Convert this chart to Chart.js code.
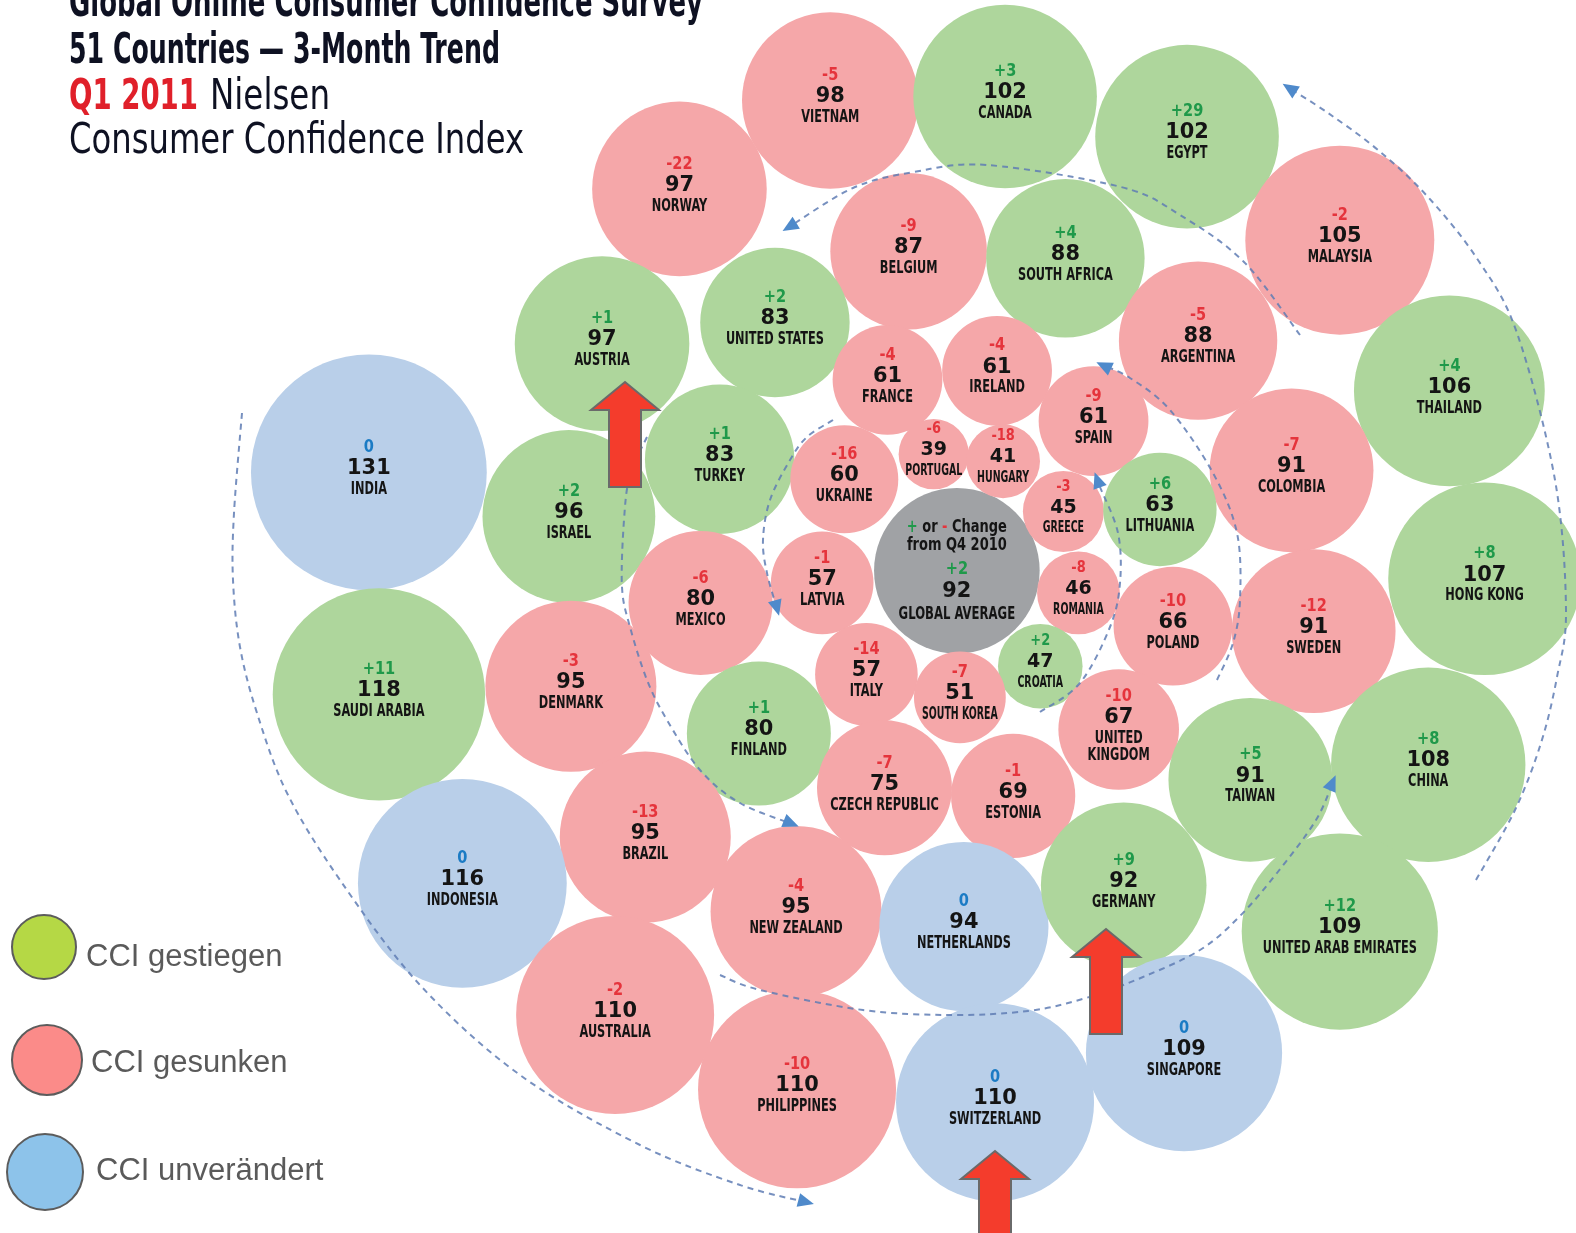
<!DOCTYPE html>
<html>
<head>
<meta charset="utf-8">
<script src="https://cdn.jsdelivr.net/npm/chart.js@4.4.1/dist/chart.umd.min.js"></script>
<style>
html, body { margin: 0; padding: 0; background: #fff; }
canvas { display: block; }
</style>
</head>
<body>
<canvas id="cci" width="1576" height="1233"></canvas>
<script>
// Q1 2011 Nielsen CCI, change vs Q4 2010
const countries = ['VIETNAM', 'CANADA', 'EGYPT', 'NORWAY', 'BELGIUM', 'SOUTH AFRICA', 'MALAYSIA', 'ARGENTINA',
  'THAILAND', 'AUSTRIA', 'UNITED STATES', 'FRANCE', 'IRELAND', 'SPAIN', 'COLOMBIA', 'INDIA', 'TURKEY',
  'PORTUGAL', 'HUNGARY', 'UKRAINE', 'ISRAEL', 'GREECE', 'LITHUANIA', 'HONG KONG', 'LATVIA', 'MEXICO',
  'ROMANIA', 'POLAND', 'SWEDEN', 'SAUDI ARABIA', 'DENMARK', 'ITALY', 'CROATIA', 'SOUTH KOREA', 'FINLAND',
  'UNITED\nKINGDOM', 'TAIWAN', 'CHINA', 'CZECH REPUBLIC', 'ESTONIA', 'BRAZIL', 'INDONESIA', 'NEW ZEALAND',
  'NETHERLANDS', 'GERMANY', 'UNITED ARAB EMIRATES', 'SINGAPORE', 'AUSTRALIA', 'PHILIPPINES', 'SWITZERLAND'];
const cci = [98, 102, 102, 97, 87, 88, 105, 88, 106, 97, 83, 61, 61, 61, 91, 131, 83, 39, 41, 60, 96, 45, 63,
  107, 57, 80, 46, 66, 91, 118, 95, 57, 47, 51, 80, 67, 91, 108, 75, 69, 95, 116, 95, 94, 92, 109, 109, 110, 110, 110];
const change = [-5, 3, 29, -22, -9, 4, -2, -5, 4, 1, 2, -4, -4, -9, -7, 0, 1, -6, -18, -16, 2, -3, 6, 8, -1, -6,
  -8, -10, -12, 11, -3, -14, 2, -7, 1, -10, 5, 8, -7, -1, -13, 0, -4, 0, 9, 12, 0, -2, -10, 0];
// bubble placement in the packed layout
const posX = [826, 1000, 1181, 676, 904, 1060, 1333, 1192, 1442, 599, 771, 883, 992, 1088, 1285, 367, 716, 929,
  998, 840, 566, 1058, 1154, 1477, 818, 697, 1073, 1167, 1307, 377, 568, 862, 1035, 955, 755, 1113, 1244, 1421,
  880, 1008, 642, 460, 792, 959, 1118, 1333, 1178, 612, 793, 990];
const posY = [100, 96, 136, 188, 250, 257, 239, 339, 389, 342, 321, 378, 369, 419, 468, 470, 457, 452, 459, 477,
  514, 509, 507, 576, 580, 600, 590, 623, 628, 691, 683, 671, 663, 694, 730, 726, 776, 761, 784, 792, 833, 879,
  907, 922, 881, 927, 1048, 1010, 1084, 1097];

const globalCci = 92;
const globalChange = 2;
const globalPos = [952, 568];

const legendLabels = ['CCI gestiegen', 'CCI gesunken', 'CCI unverändert'];

const NARROW = "'Liberation Sans Narrow', 'DejaVu Sans Condensed', sans-serif";
const rScale = 0.9;
const fillUp = '#aed69c', fillDown = '#f5a7a9', fillSame = '#b9cfe9', fillGlobal = '#a0a2a5';
const txtUp = '#1f994a', txtDown = '#e5343c', txtSame = '#1b7bc4';

function bubbleFill(c) { return c > 0 ? fillUp : (c < 0 ? fillDown : fillSame); }
function changeColor(c) { return c > 0 ? txtUp : (c < 0 ? txtDown : txtSame); }
function fmtChange(c) { return c > 0 ? '+' + c : String(c); }

function txt(ctx, s, x, y, font, sx, color, maxW) {
  ctx.save();
  ctx.font = font;
  ctx.fillStyle = color;
  ctx.textAlign = 'center';
  ctx.textBaseline = 'middle';
  let k = sx;
  if (maxW) {
    const w = ctx.measureText(s).width * k;
    if (w > maxW) k = k * maxW / w;
  }
  ctx.translate(x, y);
  ctx.scale(k, 1);
  ctx.fillText(s, 0, 0);
  ctx.restore();
}

function fitLeft(ctx, s, x, y, w, font, color) {
  ctx.save();
  ctx.font = font;
  ctx.fillStyle = color;
  ctx.textAlign = 'left';
  ctx.textBaseline = 'alphabetic';
  const m = ctx.measureText(s).width;
  ctx.translate(x, y);
  ctx.scale(w / m, 1);
  ctx.fillText(s, 0, 0);
  ctx.restore();
}

// dashed spiral guides (canvas pixels)
const guides = [
  [[242, 413], [234, 513], [233, 580], [240, 647], [257, 713], [287, 793], [340, 880], [420, 985], [520, 1075], [640, 1145], [740, 1185], [810, 1203]],
  [[647, 437], [630, 475], [624, 520], [622, 587], [630, 627], [647, 680], [667, 720], [700, 770], [740, 803], [795, 825]],
  [[833, 420], [807, 437], [790, 460], [770, 500], [763, 540], [767, 573], [778, 612]],
  [[1300, 335], [1244, 262], [1180, 215], [1121, 187], [987, 165], [914, 172], [853, 188], [786, 229]],
  [[1217, 680], [1233, 643], [1240, 600], [1237, 533], [1213, 473], [1170, 410], [1130, 378], [1100, 364]],
  [[1040, 712], [1080, 683], [1110, 627], [1120, 583], [1118, 533], [1100, 487], [1096, 476]],
  [[720, 975], [760, 990], [863, 1010], [951, 1015], [1028, 1011], [1086, 998], [1143, 977], [1200, 950], [1239, 917], [1277, 873], [1316, 820], [1334, 779]],
  [[1476, 880], [1515, 810], [1541, 743], [1557, 677], [1566, 610], [1555, 480], [1517, 333], [1478, 260], [1428, 197], [1378, 150], [1328, 113], [1286, 86]]
];

function smoothPath(ctx, pts) {
  ctx.moveTo(pts[0][0], pts[0][1]);
  for (let i = 0; i < pts.length - 1; i++) {
    const p0 = pts[i - 1] || pts[i], p1 = pts[i], p2 = pts[i + 1], p3 = pts[i + 2] || p2;
    ctx.bezierCurveTo(
      p1[0] + (p2[0] - p0[0]) / 6, p1[1] + (p2[1] - p0[1]) / 6,
      p2[0] - (p3[0] - p1[0]) / 6, p2[1] - (p3[1] - p1[1]) / 6,
      p2[0], p2[1]);
  }
}

function drawGuides(ctx) {
  ctx.save();
  ctx.strokeStyle = 'rgba(95,125,180,0.85)';
  ctx.lineWidth = 2;
  ctx.setLineDash([6, 5]);
  guides.forEach(pts => {
    ctx.beginPath();
    smoothPath(ctx, pts);
    ctx.stroke();
  });
  ctx.setLineDash([]);
  ctx.fillStyle = '#4f8acb';
  guides.forEach(pts => {
    const a = pts[pts.length - 2], b = pts[pts.length - 1];
    const ang = Math.atan2(b[1] - a[1], b[0] - a[0]);
    ctx.save();
    ctx.translate(b[0], b[1]);
    ctx.rotate(ang);
    ctx.beginPath();
    ctx.moveTo(4, 0);
    ctx.lineTo(-12, -7);
    ctx.lineTo(-12, 7);
    ctx.closePath();
    ctx.fill();
    ctx.restore();
  });
  ctx.restore();
}

// red call-out arrows: tip x, tip y, bottom y
const callouts = [[625, 382, 487], [1106, 929, 1034], [995, 1151, 1245]];

function drawCallouts(ctx) {
  ctx.save();
  ctx.fillStyle = '#f43c2c';
  ctx.strokeStyle = '#6a6a6a';
  ctx.lineWidth = 2;
  callouts.forEach(([x, y, b]) => {
    ctx.beginPath();
    ctx.moveTo(x, y);
    ctx.lineTo(x + 34, y + 28);
    ctx.lineTo(x + 16, y + 28);
    ctx.lineTo(x + 16, b);
    ctx.lineTo(x - 16, b);
    ctx.lineTo(x - 16, y + 28);
    ctx.lineTo(x - 34, y + 28);
    ctx.closePath();
    ctx.fill();
    ctx.stroke();
  });
  ctx.restore();
}

function drawBubbleText(ctx, x, y, val, chg, name, r) {
  const small = r < 45;
  const lines = name.split('\n');
  const shift = -(lines.length - 1) * 8;
  txt(ctx, fmtChange(chg), x, y - 25 + shift, `bold ${small ? 16 : 18}px ${NARROW}`, 0.9, changeColor(chg));
  txt(ctx, String(val), x, y - 4 + shift, `bold ${small ? 20 : 22}px 'DejaVu Sans', sans-serif`, 0.95, '#141414');
  lines.forEach((ln, k) => {
    txt(ctx, ln, x, y + 17 + shift + k * 17, `bold ${small ? 15 : 18}px ${NARROW}`, 0.7, '#141414', 1.65 * r);
  });
}

function drawGlobalText(ctx, x, y) {
  // "+ or - Change" with coloured signs
  ctx.save();
  ctx.font = `bold 17px ${NARROW}`;
  ctx.textBaseline = 'middle';
  ctx.textAlign = 'left';
  const parts = [['+ ', txtUp], ['or ', '#141414'], ['- ', txtDown], ['Change', '#141414']];
  const k = 0.85;
  const total = parts.reduce((s, p) => s + ctx.measureText(p[0]).width, 0) * k;
  ctx.translate(x - total / 2, y - 43);
  ctx.scale(k, 1);
  let cx = 0;
  parts.forEach(([s, c]) => {
    ctx.fillStyle = c;
    ctx.fillText(s, cx, 0);
    cx += ctx.measureText(s).width;
  });
  ctx.restore();
  txt(ctx, 'from Q4 2010', x, y - 25, `bold 17px ${NARROW}`, 0.85, '#141414');
  txt(ctx, fmtChange(globalChange), x, y - 1, `bold 18px ${NARROW}`, 0.9, txtUp);
  txt(ctx, String(globalCci), x, y + 21, `bold 22px 'DejaVu Sans', sans-serif`, 0.95, '#141414');
  txt(ctx, 'GLOBAL AVERAGE', x, y + 44, `bold 18px ${NARROW}`, 0.72, '#141414');
}

function drawTitle(ctx) {
  const ink = '#0e1122';
  fitLeft(ctx, 'Global Online Consumer Confidence Survey', 69, 16, 634, `bold 42px ${NARROW}`, ink);
  fitLeft(ctx, '51 Countries \u2014 3-Month Trend', 69, 63, 431, `bold 42px ${NARROW}`, ink);
  fitLeft(ctx, 'Q1 2011', 69, 109, 129, `bold 42px ${NARROW}`, '#e0202a');
  fitLeft(ctx, 'Nielsen', 210, 109, 120, `42px ${NARROW}`, ink);
  fitLeft(ctx, 'Consumer Confidence Index', 69, 153, 455, `42px ${NARROW}`, ink);
}

function drawLegend(ctx) {
  const swatches = [['#b5d845', 44, 947, 32, 86, 957], ['#fb8b89', 47, 1060, 35, 91, 1063], ['#8dc3ea', 45, 1172, 38, 96, 1171]];
  ctx.save();
  swatches.forEach(([c, x, y, r, tx, ty], i) => {
    ctx.beginPath();
    ctx.arc(x, y, r, 0, Math.PI * 2);
    ctx.fillStyle = c;
    ctx.fill();
    ctx.lineWidth = 2;
    ctx.strokeStyle = '#5c5c5c';
    ctx.stroke();
    ctx.font = "31px 'Liberation Sans', Arial, sans-serif";
    ctx.fillStyle = '#5a5a5a';
    ctx.textAlign = 'left';
    ctx.textBaseline = 'middle';
    ctx.fillText(legendLabels[i], tx, ty);
  });
  ctx.restore();
}

const overlay = {
  id: 'overlay',
  afterDatasetsDraw(chart) {
    const ctx = chart.ctx;
    drawGuides(ctx);
    chart.getDatasetMeta(0).data.forEach((el, i) => {
      drawBubbleText(ctx, el.x, el.y, cci[i], change[i], countries[i], cci[i] * rScale);
    });
    const g = chart.getDatasetMeta(1).data[0];
    drawGlobalText(ctx, g.x, g.y);
    drawCallouts(ctx);
    drawTitle(ctx);
    drawLegend(ctx);
  }
};

new Chart(document.getElementById('cci'), {
  type: 'bubble',
  data: {
    datasets: [{
      label: 'Countries',
      data: countries.map((c, i) => ({ x: posX[i], y: posY[i], r: cci[i] * rScale })),
      backgroundColor: change.map(bubbleFill),
      borderWidth: 0,
      hoverRadius: 0,
      clip: false
    }, {
      label: 'Global average',
      data: [{ x: globalPos[0], y: globalPos[1], r: globalCci * rScale }],
      backgroundColor: fillGlobal,
      borderWidth: 0,
      hoverRadius: 0,
      clip: false
    }]
  },
  options: {
    responsive: false,
    animation: false,
    layout: { autoPadding: false, padding: 0 },
    scales: {
      x: { type: 'linear', min: 0, max: 1568, display: false },
      y: { type: 'linear', min: 0, max: 1227, reverse: true, display: false }
    },
    plugins: {
      legend: { display: false },
      tooltip: { enabled: false }
    }
  },
  plugins: [overlay]
});
</script>
</body>
</html>
